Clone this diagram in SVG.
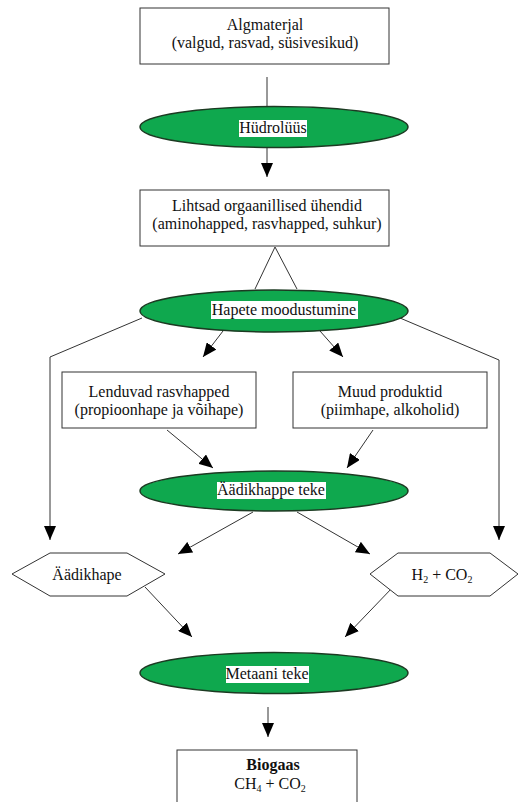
<svg xmlns="http://www.w3.org/2000/svg" width="519" height="802" viewBox="0 0 519 802">
<defs>
<marker id="ah" markerUnits="userSpaceOnUse" markerWidth="14" markerHeight="12" viewBox="0 0 14 12" refX="14" refY="6" orient="auto">
<path d="M0,0 L14,6 L0,12 z" fill="#000"/>
</marker>
<style>
text{font-family:"Liberation Serif","Times New Roman",serif;font-size:16px;fill:#111;text-anchor:middle}
.box{fill:#fff;stroke:#333;stroke-width:1}
.ell{fill:#0fa84e;stroke:#1c3a22;stroke-width:1.5}
.lbl{fill:#fff}
.ln{fill:none;stroke:#333;stroke-width:1}
.ar{fill:none;stroke:#333;stroke-width:1;marker-end:url(#ah)}
.b{font-weight:bold}
</style>
</defs>
<rect width="519" height="802" fill="#fff"/>
<g id="connectors">
<path class="ln" d="M267,77 V106"/>
<path class="ar" d="M267,147 V177"/>
<path class="ln" d="M275,247 L255,289 M275,247 L297,289"/>
<path class="ar" d="M142,318 L50,357 V540"/>
<path class="ar" d="M400,318 L499,360 V540"/>
<path class="ar" d="M223,331 L203,357"/>
<path class="ar" d="M320,331 L343,357"/>
<path class="ar" d="M167,430 L213,468"/>
<path class="ar" d="M373,430 L347,468"/>
<path class="ar" d="M253,512 L178,554"/>
<path class="ar" d="M297,512 L370,554"/>
<path class="ar" d="M145,587 L192,637"/>
<path class="ar" d="M393,587 L345,637"/>
<path class="ar" d="M268,707 V737"/>
</g>
<g id="algmaterjal">
<rect class="box" x="140" y="8" width="249" height="56"/>
<text x="265" y="30">Algmaterjal</text>
<text x="265" y="48">(valgud, rasvad, süsivesikud)</text>
</g>
<g id="hudroluus">
<ellipse class="ell" cx="274" cy="127" rx="134" ry="20.5"/>
<rect class="lbl" x="239" y="120" width="68" height="17"/>
<text x="273" y="133">Hüdrolüüs</text>
</g>
<g id="lihtsad">
<rect class="box" x="140" y="190" width="249" height="56"/>
<text x="267" y="211">Lihtsad orgaanillised ühendid</text>
<text x="267" y="229">(aminohapped, rasvhapped, suhkur)</text>
</g>
<g id="hapete">
<ellipse class="ell" cx="274" cy="311" rx="134" ry="21"/>
<rect class="lbl" x="211" y="301" width="147" height="18"/>
<text x="284" y="315">Hapete moodustumine</text>
</g>
<g id="lenduvad">
<rect class="box" x="62" y="372" width="194" height="56"/>
<text x="159" y="397">Lenduvad rasvhapped</text>
<text x="159" y="415">(propioonhape ja võihape)</text>
</g>
<g id="muud">
<rect class="box" x="293" y="372" width="194" height="56"/>
<text x="390" y="397">Muud produktid</text>
<text x="390" y="415">(piimhape, alkoholid)</text>
</g>
<g id="aadikhappe-teke">
<ellipse class="ell" cx="274" cy="491" rx="134" ry="20"/>
<rect class="lbl" x="217" y="482" width="109" height="17"/>
<text x="271" y="495">Äädikhappe teke</text>
</g>
<g id="aadikhape">
<polygon class="box" points="12,574 50,553 127,553 165,574 127,596 50,596"/>
<text x="87" y="580">Äädikhape</text>
</g>
<g id="h2co2">
<polygon class="box" points="370,574 398,553 490,553 518,574 490,596 398,596"/>
<text x="442" y="580">H<tspan font-size="10" dy="3">2</tspan><tspan dy="-3"> + CO</tspan><tspan font-size="10" dy="3">2</tspan></text>
</g>
<g id="metaani">
<ellipse class="ell" cx="274" cy="673" rx="134" ry="20.5"/>
<rect class="lbl" x="226" y="666" width="83" height="17"/>
<text x="267" y="679">Metaani teke</text>
</g>
<g id="biogaas">
<rect class="box" x="177" y="750" width="180" height="70"/>
<text class="b" x="273" y="770">Biogaas</text>
<text x="270" y="789">CH<tspan font-size="10" dy="3">4</tspan><tspan dy="-3"> + CO</tspan><tspan font-size="10" dy="3">2</tspan></text>
</g>
</svg>
